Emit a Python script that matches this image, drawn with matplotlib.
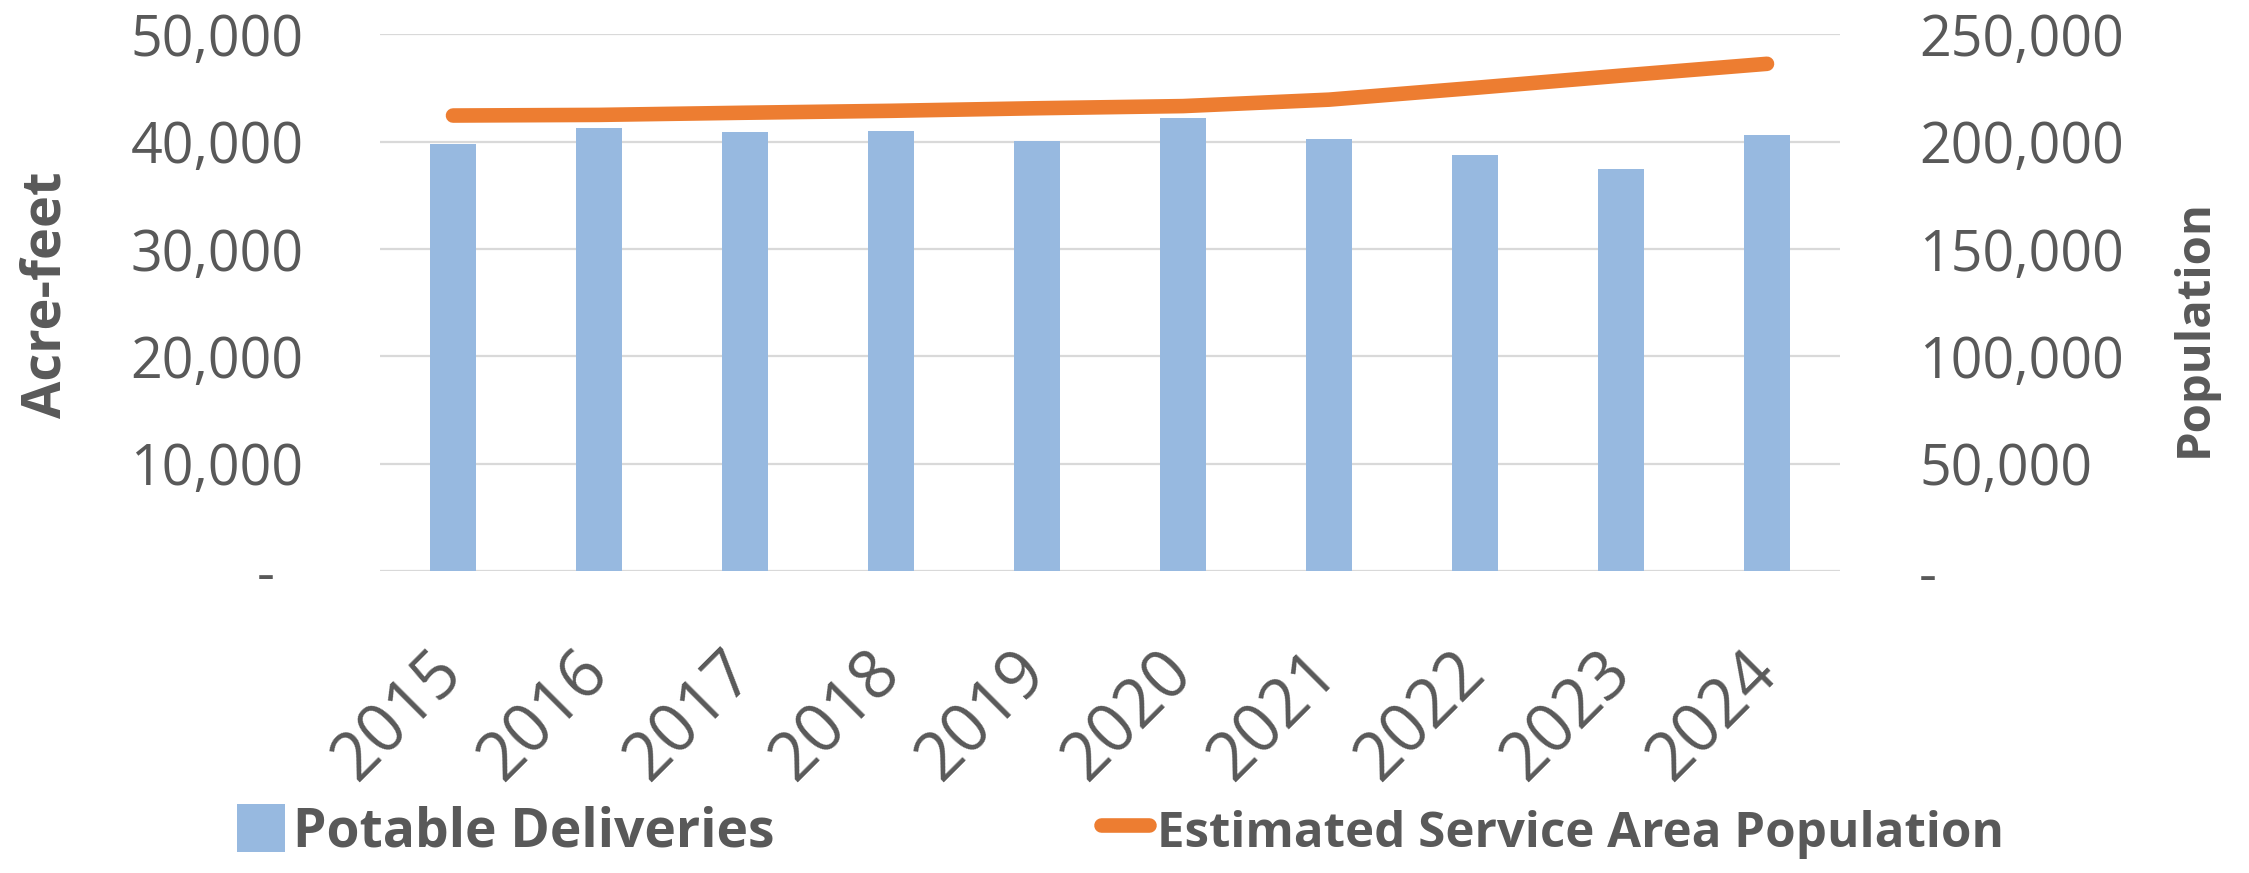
import matplotlib
matplotlib.use("Agg")
import matplotlib.pyplot as plt
from matplotlib.ticker import FuncFormatter

plt.rcParams['font.family'] = ['Open Sans', 'DejaVu Sans']

# data
years = ['2015', '2016', '2017', '2018', '2019', '2020', '2021', '2022', '2023', '2024']
deliveries = [39750, 41300, 40930, 40960, 40030, 42170, 40220, 38730, 37480, 40590]
population = [212200, 212500, 213500, 214400, 215600, 216600, 219600, 225100, 230800, 236300]

grey = '#595959'
bar_col = '#97B9E0'
line_col = '#ED7D31'

fig = plt.figure(figsize=(22.49, 8.73), dpi=100)
ax = fig.add_axes([380 / 2249, 1 - 571 / 873, 1460 / 2249, (571 - 34.4) / 873])
ax2 = ax.twinx()

x = range(len(years))
bars = ax.bar(x, deliveries, width=0.31, color=bar_col, zorder=2, label='Potable Deliveries')
line, = ax2.plot(x, population, color=line_col, lw=10.5, solid_capstyle='round',
                 label='Estimated Service Area Population')

ax.set_xlim(-0.5, len(years) - 0.5)
ax.set_ylim(0, 50000)
ax2.set_ylim(0, 250000)
ax.set_yticks(range(0, 50001, 10000))
ax2.set_yticks(range(0, 250001, 50000))

def fmt(v, pos):
    return '-  ' if v == 0 else f'{int(v):,}'

def fmt2(v, pos):
    return '-' if v == 0 else f'{int(v):,}'

ax.yaxis.set_major_formatter(FuncFormatter(fmt))
ax2.yaxis.set_major_formatter(FuncFormatter(fmt2))

ax.grid(axis='y', color='#D9D9D9', lw=1.6, zorder=0)
ax.set_axisbelow(True)
for a in (ax, ax2):
    for s in a.spines.values():
        s.set_visible(False)

ax.set_xticks(list(x))
ax.set_xticklabels(years, rotation=45, ha='right', va='center', rotation_mode='anchor')
ax.tick_params(axis='x', length=0, pad=66, labelsize=48, labelcolor=grey)
ax.tick_params(axis='y', length=0, pad=55, labelsize=40, labelcolor=grey)
ax2.tick_params(axis='y', length=0, pad=57, labelsize=40, labelcolor=grey)

fig.text(47 / 2249, 1 - 295 / 873, 'Acre-feet', rotation=90, ha='center', va='center',
         fontsize=39, fontweight='bold', color=grey)
fig.text(2194 / 2249, 1 - 328 / 873, 'Population', rotation=90, ha='center', va='center',
         fontsize=34, fontweight='bold', color=grey)

leg = fig.legend(handles=[bars, line], loc='center left', bbox_to_anchor=(237 / 2249, 0.047),
                 ncol=2, frameon=False, borderpad=0, borderaxespad=0,
                 handlelength=0.9, handleheight=1.0, handletextpad=0.15, columnspacing=6.1,
                 prop={'size': 38.5, 'weight': 'bold'})
for t in leg.get_texts():
    t.set_color(grey)
leg.get_texts()[1].set_fontsize(35.5)

fig.savefig('out.png', dpi=100)
